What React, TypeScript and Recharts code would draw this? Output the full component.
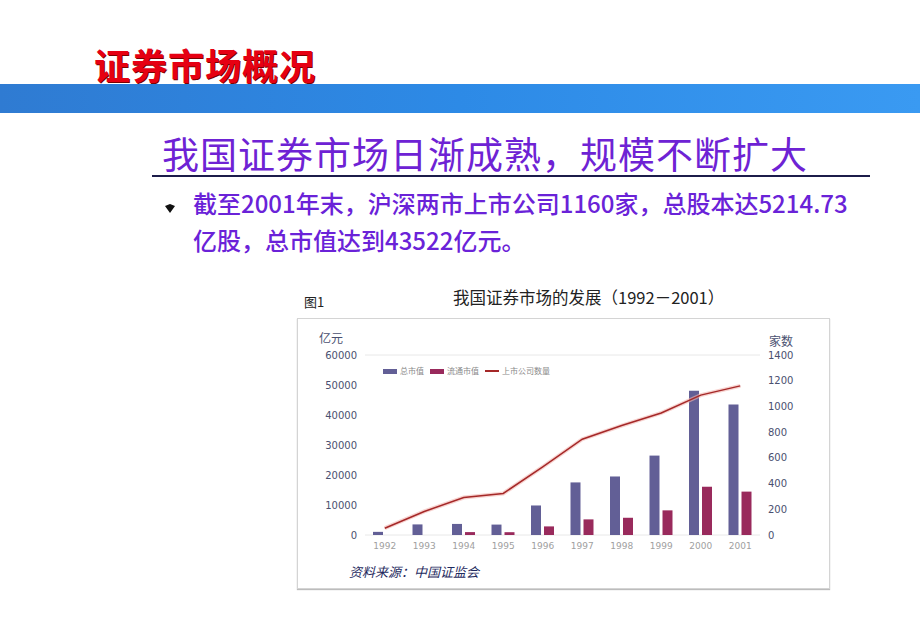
import { ComposedChart, Bar, Line, XAxis, YAxis, CartesianGrid } from "recharts"

// 我国证券市场的发展（1992－2001）
const years = ["1992", "1993", "1994", "1995", "1996", "1997", "1998", "1999", "2000", "2001"]
const totalCap = [1048, 3531, 3691, 3474, 9842, 17529, 19506, 26471, 48091, 43522]
const floatCap = [0, 0, 969, 938, 2867, 5204, 5746, 8214, 16088, 14463]
const companies = [53, 183, 291, 323, 530, 745, 851, 949, 1088, 1160]

const leftTicks = [0, 10000, 20000, 30000, 40000, 50000, 60000]
const rightTicks = [0, 200, 400, 600, 800, 1000, 1200, 1400]

const seriesNames = ["总市值", "流通市值", "上市公司数量"]

const data = years.map((year, i) => ({
  year,
  total: totalCap[i],
  float: floatCap[i],
  count: companies[i],
}))

const TOTAL_COLOR = "#625f96"
const FLOAT_COLOR = "#992a5c"
const LINE_COLOR = "#a52828"
const cjk = '"Noto Sans CJK SC", "Noto Sans", sans-serif'

// legend drawn by hand so it doesn't push the plot area down
function ChartLegend() {
  const items = [
    { name: seriesNames[0], color: TOTAL_COLOR, type: "bar" },
    { name: seriesNames[1], color: FLOAT_COLOR, type: "bar" },
    { name: seriesNames[2], color: LINE_COLOR, type: "line" },
  ]
  return (
    <div style={{ display: "flex", alignItems: "center", fontFamily: cjk, fontSize: 8, color: "#8a8a8a", lineHeight: "10px" }}>
      {items.map((it) => (
        <div key={it.name} style={{ display: "flex", alignItems: "center", marginRight: 6 }}>
          <span
            style={{
              display: "inline-block",
              width: 14,
              height: it.type === "bar" ? 5 : 1.5,
              background: it.color,
              marginRight: 3,
            }}
          />
          <span>{it.name}</span>
        </div>
      ))}
    </div>
  )
}

export default function App() {
  return (
    <div style={{ position: "absolute", left: 0, top: 0, width: 920, height: 637, background: "#fff", overflow: "hidden", fontFamily: cjk }}>
      {/* page header */}
      <div
        style={{
          position: "absolute",
          left: 94,
          top: 40,
          fontSize: 36,
          fontWeight: 700,
          color: "#e60012",
          lineHeight: "48px",
          textShadow: "1px 1px 0 #7a0000",
          letterSpacing: 1,
        }}
      >
        证券市场概况
      </div>
      <div
        style={{
          position: "absolute",
          left: 0,
          top: 84,
          width: 920,
          height: 29,
          background: "linear-gradient(90deg, #2f7bd2 0%, #2d8ae6 50%, #3a9af2 100%)",
        }}
      />
      <div
        style={{
          position: "absolute",
          left: 162,
          top: 128,
          fontSize: 37,
          color: "#6e22d4",
          lineHeight: "50px",
          fontWeight: 400,
          letterSpacing: 1,
        }}
      >
        我国证券市场日渐成熟，规模不断扩大
      </div>
      <div style={{ position: "absolute", left: 152, top: 175, width: 718, height: 2, background: "#1c1c4a" }} />
      <svg style={{ position: "absolute", left: 164, top: 198 }} width={12} height={16}>
        <polygon points="6,1 6,6 11,8 6,15 1,8 6,6" fill="#111" />
      </svg>
      <div
        style={{
          position: "absolute",
          left: 193,
          top: 184,
          width: 670,
          fontSize: 24,
          color: "#6a22d8",
          lineHeight: "37px",
          fontWeight: 500,
        }}
      >
        截至2001年末，沪深两市上市公司1160家，总股本达5214.73
        <br />
        亿股，总市值达到43522亿元。
      </div>

      {/* figure captions */}
      <div style={{ position: "absolute", left: 304, top: 292, fontSize: 13, color: "#222", lineHeight: "20px" }}>图1</div>
      <div style={{ position: "absolute", left: 453, top: 286, fontSize: 16.5, color: "#222", lineHeight: "22px" }}>
        我国证券市场的发展（1992－2001）
      </div>

      {/* chart frame */}
      <div
        style={{
          position: "absolute",
          left: 297,
          top: 318,
          width: 531,
          height: 269,
          border: "1px solid #d4d4d4",
          boxShadow: "0 1px 1px #bcbcbc",
        }}
      />
      <div style={{ position: "absolute", left: 319, top: 331, fontSize: 12, color: "#4a5070", lineHeight: "14px" }}>亿元</div>
      <div style={{ position: "absolute", left: 769, top: 334, fontSize: 12, color: "#4a5070", lineHeight: "14px" }}>家数</div>

      <div style={{ position: "absolute", left: 297, top: 318 }}>
        <ComposedChart
          width={532}
          height={270}
          data={data}
          margin={{ top: 37, right: 0, bottom: 0, left: 0 }}
          barSize={10}
          barGap={3}
        >
          <CartesianGrid vertical={false} stroke="#e8e8e8" />
          <XAxis
            dataKey="year"
            height={53}
            axisLine={false}
            tickLine={false}
            tick={{ fontSize: 9, fill: "#a0a0a0", fontFamily: "DejaVu Sans" }}
            interval={0}
          />
          <YAxis
            yAxisId="left"
            width={68}
            domain={[0, 60000]}
            ticks={leftTicks}
            axisLine={false}
            tickLine={false}
            tick={{ fontSize: 10, fill: "#4a5070", fontFamily: "DejaVu Sans" }}
          />
          <YAxis
            yAxisId="right"
            orientation="right"
            width={69}
            domain={[0, 1400]}
            ticks={rightTicks}
            axisLine={false}
            tickLine={false}
            tick={{ fontSize: 10, fill: "#4a5070", fontFamily: "DejaVu Sans" }}
          />
          <Bar yAxisId="left" dataKey="total" name={seriesNames[0]} fill={TOTAL_COLOR} isAnimationActive={false} />
          <Bar yAxisId="left" dataKey="float" name={seriesNames[1]} fill={FLOAT_COLOR} isAnimationActive={false} />
          <Line
            yAxisId="right"
            dataKey="count"
            legendType="none"
            stroke="#f2b6b0"
            strokeWidth={4}
            strokeOpacity={0.6}
            dot={false}
            activeDot={false}
            type="linear"
            isAnimationActive={false}
          />
          <Line
            yAxisId="right"
            dataKey="count"
            name={seriesNames[2]}
            stroke={LINE_COLOR}
            strokeWidth={1.5}
            dot={false}
            type="linear"
            isAnimationActive={false}
          />
        </ComposedChart>
      </div>
      <div style={{ position: "absolute", left: 383, top: 366 }}>
        <ChartLegend />
      </div>

      <div
        style={{
          position: "absolute",
          left: 349,
          top: 562,
          fontSize: 13,
          fontStyle: "italic",
          color: "#1e2a5e",
          lineHeight: "20px",
        }}
      >
        资料来源：中国证监会
      </div>
    </div>
  )
}
